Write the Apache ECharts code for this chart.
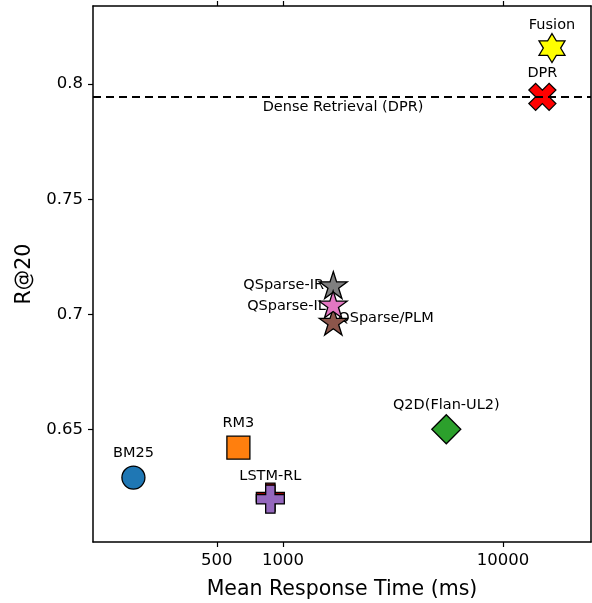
<!DOCTYPE html>
<html><head><meta charset="utf-8">
<script src="https://cdn.jsdelivr.net/npm/echarts@6/dist/echarts.min.js"></script>
<style>html,body{margin:0;padding:0;background:#fff}#c{width:592px;height:603px}</style>
</head><body><div id="c"></div>
<script>
// ---- data ----
const methods = ['BM25', 'RM3', 'LSTM-RL (variant)', 'LSTM-RL', 'Q2D(Flan-UL2)', 'DPR', 'Fusion', 'QSparse-IR', 'QSparse/PLM', 'QSparse-IL'];
const pointLabels = ['BM25', 'RM3', '', 'LSTM-RL', 'Q2D(Flan-UL2)', 'DPR', 'Fusion', 'QSparse-IR', 'QSparse/PLM', 'QSparse-IL'];
const responseTimeMs = [209, 627, 876, 876, 5524, 15100, 16700, 1693, 1693, 1690];
const recallAt20 = [0.629, 0.642, 0.6205, 0.6196, 0.650, 0.7945, 0.8157, 0.7127, 0.6968, 0.7043];
const xTicks = [500, 1000, 10000];
const yTicks = [0.65, 0.7, 0.75, 0.8];
const dprRecall = 0.7945;
const dprLineText = 'Dense Retrieval (DPR)';
const dprLineTextX = 1875;

// ---- styles ----
const STAR = 'path://M95.1,0L117.55,69.1L190.2,69.1L131.43,111.8L153.88,180.9L95.1,138.2L36.32,180.9L58.77,111.8L0,69.1L72.65,69.1Z';
const HEX = 'path://M100,0L128.87,50L186.6,50L157.7,100L186.6,150L128.87,150L100,200L71.13,150L13.4,150L42.3,100L13.4,50L71.13,50Z';
const PLUS = 'path://M1,0H2V1H3V2H2V3H1V2H0V1H1Z';
const XMARK = 'path://M1,0L2,1L3,0L4,1L3,2L4,3L3,4L2,3L1,4L0,3L1,2L0,1Z';
const styleByName = {
  'BM25': {symbol: 'circle', size: 23, color: '#1f77b4', off: [0, -24]},
  'RM3': {symbol: 'rect', size: 23, color: '#ff7f0e', off: [0, -24]},
  'LSTM-RL (variant)': {symbol: PLUS, size: 28, color: '#8b0000', off: [0, -23]},
  'LSTM-RL': {symbol: PLUS, size: 28, color: '#9467bd', off: [0, -23]},
  'Q2D(Flan-UL2)': {symbol: 'diamond', size: [29, 29], color: '#2ca02c', off: [0, -24]},
  'DPR': {symbol: XMARK, size: 27, color: '#ff0000', off: [0, -24]},
  'Fusion': {symbol: HEX, size: [26, 29], color: '#ffff00', off: [0, -23]},
  'QSparse-IR': {symbol: STAR, size: [28, 27], color: '#7f7f7f', off: [-90, 0], align: 'left'},
  'QSparse/PLM': {symbol: STAR, size: [28, 27], color: '#8c564b', off: [5, -3], align: 'left'},
  'QSparse-IL': {symbol: STAR, size: [28, 27], color: '#e377c2', off: [-86, 2], align: 'left'}
};
const FONT = 'DejaVu Sans';

const markerData = methods.map((m, i) => {
  const s = styleByName[m];
  return {
    name: m,
    value: [responseTimeMs[i], recallAt20[i]],
    symbol: s.symbol,
    symbolSize: s.size,
    itemStyle: {color: s.color, borderColor: '#000', borderWidth: 1.3, opacity: 1}
  };
});
const labelData = methods.map((m, i) => {
  const s = styleByName[m];
  return {
    name: m,
    value: [responseTimeMs[i], recallAt20[i]],
    label: {
      show: pointLabels[i] !== '',
      formatter: pointLabels[i],
      position: 'inside',
      align: s.align || 'center',
      verticalAlign: 'middle',
      offset: s.off,
      color: '#000'
    }
  };
});

const axisCommonX = {
  type: 'log', logBase: 10, min: 136.9, max: 25119,
  axisLine: {show: true, lineStyle: {color: '#000', width: 1.5}},
  axisTick: {show: true, length: 5, lineStyle: {color: '#000', width: 1.2}, customValues: xTicks},
  splitLine: {show: false},
  minorTick: {show: false}
};

const chart = echarts.init(document.getElementById('c'), null, {renderer: 'canvas'});
chart.setOption({
  animation: false,
  backgroundColor: '#fff',
  textStyle: {fontFamily: FONT},
  grid: {left: 93, right: 1, top: 6, bottom: 61, containLabel: false, outerBoundsMode: 'none'},
  xAxis: [
    Object.assign({}, axisCommonX, {
      position: 'bottom',
      name: 'Mean Response Time (ms)', nameLocation: 'middle', nameGap: 37,
      nameTextStyle: {fontFamily: FONT, fontSize: 20.5, color: '#000'},
      axisLabel: {show: true, customValues: xTicks, formatter: v => String(v), margin: 10,
        fontFamily: FONT, fontSize: 16.5, color: '#000'}
    }),
    Object.assign({}, axisCommonX, {
      position: 'top',
      axisLabel: {show: false}
    })
  ],
  yAxis: [
    {
      type: 'value', min: 0.601, max: 0.834, position: 'left',
      name: 'R@20', nameLocation: 'middle', nameGap: 57, nameRotate: 90,
      nameTextStyle: {fontFamily: FONT, fontSize: 20.5, color: '#000'},
      axisLine: {show: true, lineStyle: {color: '#000', width: 1.5}},
      axisTick: {show: true, length: 5, lineStyle: {color: '#000', width: 1.2}, customValues: yTicks},
      axisLabel: {show: true, customValues: yTicks, formatter: v => String(v), margin: 10,
        fontFamily: FONT, fontSize: 16.5, color: '#000'},
      splitLine: {show: false}
    },
    {
      type: 'value', min: 0.601, max: 0.834, position: 'right',
      axisLine: {show: true, lineStyle: {color: '#000', width: 1.5}},
      axisTick: {show: false}, axisLabel: {show: false}, splitLine: {show: false}
    }
  ],
  series: [
    {
      name: 'labels', type: 'scatter', z: 1, silent: true,
      symbolSize: 0,
      itemStyle: {opacity: 1},
      label: {color: '#000', fontFamily: FONT, fontSize: 14.5},
      data: labelData
    },
    {
      name: 'dpr-line', type: 'scatter', z: 2, silent: true,
      symbolSize: 0,
      itemStyle: {opacity: 1},
      data: [{value: [dprLineTextX, dprRecall], label: {show: true, formatter: dprLineText, position: 'inside',
        offset: [0, 10], color: '#000', fontFamily: FONT, fontSize: 14.5}}],
      markLine: {
        silent: true, symbol: ['none', 'none'], precision: 6,
        label: {show: false},
        lineStyle: {color: '#000', type: [8, 5], width: 2, opacity: 1},
        data: [{yAxis: dprRecall}]
      }
    },
    {
      name: 'methods', type: 'scatter', z: 3,
      label: {show: false},
      itemStyle: {opacity: 1},
      data: markerData
    }
  ]
});
</script>
</body></html>
